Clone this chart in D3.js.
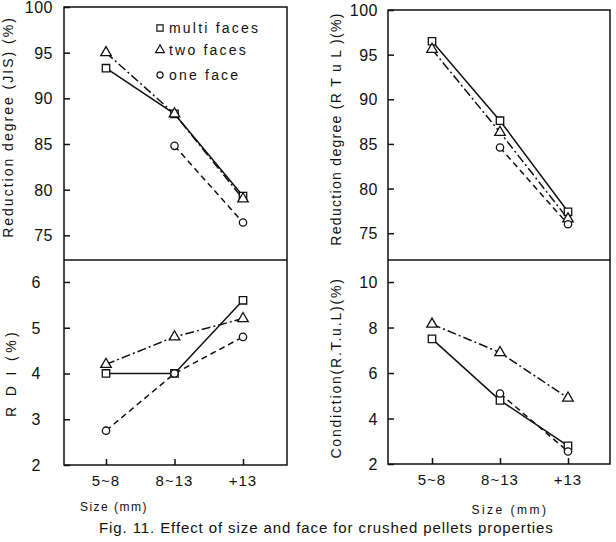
<!DOCTYPE html>
<html><head><meta charset="utf-8">
<script src="https://cdn.jsdelivr.net/npm/d3@7"></script>
<style>
body{margin:0;background:#fff;}
svg{display:block;}
text{font-family:"Liberation Sans","DejaVu Sans",sans-serif;fill:#111;}
</style></head><body>
<script>
// ---- data ----
const categories = ["5~8", "8~13", "+13"];
const seriesNames = ["multi faces", "two faces", "one face"];

// Reduction degree (JIS) (%)
const jisMulti = [93.3, 88.3, 79.3];
const jisTwo = [95.0, 88.3, 79.0];
const jisOne = [null, 84.8, 76.4];

// Reduction degree (RTuL) (%)
const rtulMulti = [96.5, 87.6, 77.4];
const rtulTwo = [95.6, 86.3, 76.6];
const rtulOne = [null, 84.6, 76.0];

// RDI (%)
const rdiMulti = [4.0, 4.0, 5.6];
const rdiTwo = [4.2, 4.8, 5.2];
const rdiOne = [2.75, 4.0, 4.8];

// Condiction (RTuL) (%)
const condMulti = [7.5, 4.8, 2.8];
const condTwo = [8.15, 6.9, 4.9];
const condOne = [null, 5.1, 2.55];

const jisTicks = [75, 80, 85, 90, 95, 100];
const rtulTicks = [75, 80, 85, 90, 95, 100];
const rdiTicks = [2, 3, 4, 5, 6];
const condTicks = [2, 4, 6, 8, 10];

// ---- drawing ----
const W = 616, H = 542;
const svg = d3.select("body").append("svg").attr("width", W).attr("height", H);
const ink = "#111";
const styles = [
  {dash: null, sym: d3.symbolSquare, size: 55},
  {dash: "9,3,2,3", sym: d3.symbolTriangle, size: 48},
  {dash: "6,4", sym: d3.symbolCircle, size: 42}
];

function panel(cfg) {
  const g = svg.append("g");
  const x = d3.scalePoint().domain(categories).range(cfg.xr);
  const y = d3.scaleLinear().domain(cfg.dom).range(cfg.yr);
  const yAxis = d3.axisRight(y).tickValues(cfg.ticks).tickSize(6).tickFormat("");
  g.append("g").attr("transform", `translate(${cfg.fx0},0)`).call(yAxis)
    .call(s => s.select(".domain").remove())
    .selectAll("line").attr("stroke", ink).attr("stroke-width", 1.5);
  g.selectAll(".yl").data(cfg.ticks).enter().append("text")
    .attr("x", cfg.fx0 - cfg.labGap).attr("y", d => y(d) + 6)
    .attr("text-anchor", "end").attr("font-size", 16).attr("letter-spacing", 0.5)
    .text(d => d);
  if (cfg.bottom) {
    const xAxis = d3.axisTop(x).tickSize(6).tickFormat("");
    g.append("g").attr("transform", `translate(0,${cfg.yr[0]})`).call(xAxis)
      .call(s => s.select(".domain").remove())
      .selectAll("line").attr("stroke", ink).attr("stroke-width", 1.5);
    g.selectAll(".xl").data(categories).enter().append("text")
      .attr("x", d => x(d)).attr("y", cfg.yr[0] + 21)
      .attr("text-anchor", "middle").attr("font-size", 15).attr("letter-spacing", 1)
      .text(d => d);
  }
  const data = cfg.series;
  data.forEach((vals, i) => {
    const pts = categories.map((c, j) => ({c, v: vals[j]})).filter(p => p.v != null);
    const line = d3.line().x(p => x(p.c)).y(p => y(p.v));
    g.append("path").attr("d", line(pts)).attr("fill", "none")
      .attr("stroke", ink).attr("stroke-width", 1.5)
      .attr("stroke-dasharray", styles[i].dash);
  });
  data.forEach((vals, i) => {
    const pts = categories.map((c, j) => ({c, v: vals[j]})).filter(p => p.v != null);
    g.selectAll(null).data(pts).enter().append("path")
      .attr("d", d3.symbol().type(styles[i].sym).size(styles[i].size))
      .attr("transform", p => `translate(${x(p.c)},${y(p.v)})`)
      .attr("fill", "#fff").attr("stroke", ink).attr("stroke-width", 1.3);
  });
  g.append("text").attr("transform", `translate(${cfg.tx},${cfg.ty}) rotate(-90)`)
    .attr("text-anchor", "middle").attr("font-size", 14).attr("letter-spacing", cfg.tls)
    .text(cfg.title);
}

function frame(x0, x1, yTop, yMid, yBot) {
  svg.append("rect").attr("x", x0).attr("y", yTop).attr("width", x1 - x0).attr("height", yBot - yTop)
    .attr("fill", "none").attr("stroke", ink).attr("stroke-width", 1.5);
  svg.append("line").attr("x1", x0).attr("x2", x1).attr("y1", yMid).attr("y2", yMid)
    .attr("stroke", ink).attr("stroke-width", 1.5);
}

panel({xr: [106, 243], dom: [72.3, 100], yr: [260, 7], ticks: jisTicks, fx0: 64, labGap: 11,
  series: [jisMulti, jisTwo, jisOne], title: "Reduction degree (JIS) (%)", tx: 13, ty: 127, tls: 2.0});
panel({xr: [106, 243], dom: [2, 6.48], yr: [465, 260], ticks: rdiTicks, fx0: 64, labGap: 23, bottom: true,
  series: [rdiMulti, rdiTwo, rdiOne], title: "R D I  (%)", tx: 16, ty: 373, tls: 3.4});
panel({xr: [432, 568], dom: [72, 100], yr: [260, 10], ticks: rtulTicks, fx0: 388, labGap: 10,
  series: [rtulMulti, rtulTwo, rtulOne], title: "Reduction degree (R T u L )(%)", tx: 341, ty: 129, tls: 1.3});
panel({xr: [432, 568], dom: [2, 10.97], yr: [464, 260], ticks: condTicks, fx0: 388, labGap: 10, bottom: true,
  series: [condMulti, condTwo, condOne], title: "Condiction(R.T.u.L)(%)", tx: 341, ty: 368, tls: 1.8});

frame(64, 287, 7, 260, 465);
frame(388, 610, 10, 260, 464);

const leg = svg.append("g");
seriesNames.forEach((n, i) => {
  const ly = [28, 50, 75][i];
  leg.append("path").attr("d", d3.symbol().type(styles[i].sym).size(styles[i].size * 0.7))
    .attr("transform", `translate(160,${ly})`).attr("fill", "#fff").attr("stroke", ink).attr("stroke-width", 1.2);
  leg.append("text").attr("x", 169).attr("y", ly + 5).attr("font-size", 14).attr("letter-spacing", 2.2).text(n);
});

svg.append("text").attr("x", 114).attr("y", 511).attr("text-anchor", "middle").attr("font-size", 12)
  .attr("letter-spacing", 1.5).text("Size (mm)");
svg.append("text").attr("x", 510).attr("y", 514).attr("text-anchor", "middle").attr("font-size", 12)
  .attr("letter-spacing", 2.5).text("Size  (mm)");
svg.append("text").attr("x", 99).attr("y", 533).attr("font-size", 15).attr("letter-spacing", 0.9)
  .text("Fig. 11.  Effect of size and face for crushed pellets properties");
</script></body></html>
